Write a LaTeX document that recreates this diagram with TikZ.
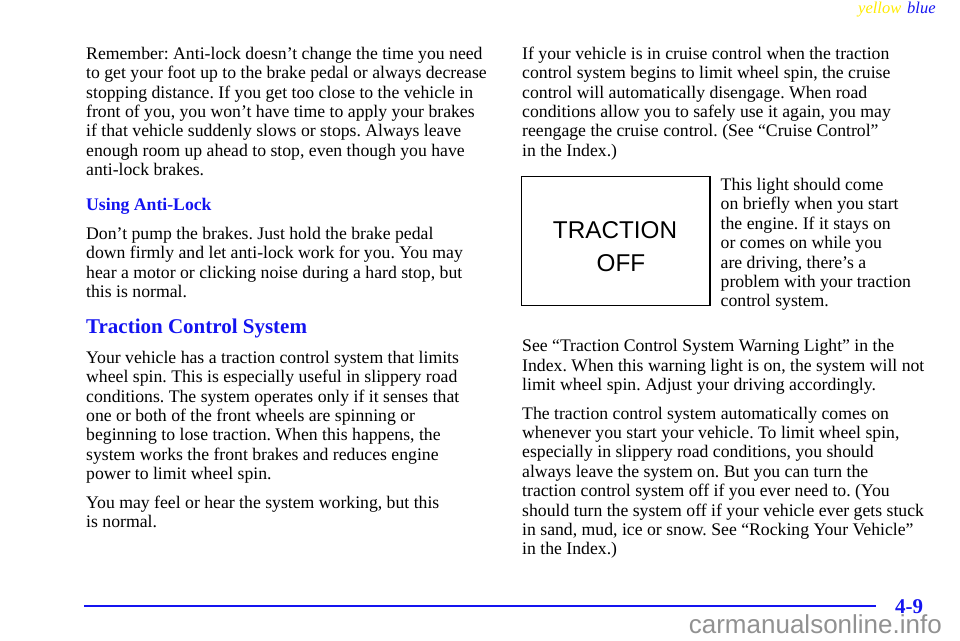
\documentclass[tikz,border=0pt]{standalone}
\usepackage{fontspec}
\setmainfont{Liberation Serif}
\newfontfamily\sansfam{Liberation Sans}
\definecolor{hdblue}{RGB}{20,20,240}
\definecolor{hdyellow}{RGB}{255,235,0}
\definecolor{wmgray}{RGB}{145,145,145}
\frenchspacing
\begin{document}
\begin{tikzpicture}[x=1pt,y=-1pt,
  txt/.style={anchor=base west,inner sep=0pt,font=\fontsize{17.7}{19.4}\selectfont},
  subhead/.style={anchor=base west,inner sep=0pt,text=hdblue,font=\fontsize{17.7}{19.4}\selectfont\bfseries},
  mainhead/.style={anchor=base west,inner sep=0pt,text=hdblue,font=\fontsize{21}{24}\selectfont\bfseries},
  lamp/.style={anchor=base,inner sep=0pt,font=\sansfam\fontsize{24.3}{28}\selectfont}]
\useasboundingbox (0,0) rectangle (960,640);
% header
\node[anchor=base west,inner sep=0pt,text=hdyellow,font=\fontsize{16.5}{18}\selectfont\itshape] (hy) at (858,13.3) {yellow};
\node[anchor=base west,inner sep=0pt,text=hdblue,font=\fontsize{16.5}{18}\selectfont\itshape] (hb) at (907,13.3) {blue};
% left column
\node[txt] (l1) at (86,59.3) {Remember: Anti-lock doesn’t change the time you need};
\node[txt] (l2) at (86,78.7) {to get your foot up to the brake pedal or always decrease};
\node[txt] (l3) at (86,98.1) {stopping distance. If you get too close to the vehicle in};
\node[txt] (l4) at (86,117.5) {front of you, you won’t have time to apply your brakes};
\node[txt] (l5) at (86,136.9) {if that vehicle suddenly slows or stops. Always leave};
\node[txt] (l6) at (86,156.3) {enough room up ahead to stop, even though you have};
\node[txt] (l7) at (86,175.7) {anti-lock brakes.};
\node[subhead] (h1) at (86,210.7) {Using Anti-Lock};
\node[txt] (l8) at (86,239.3) {Don’t pump the brakes. Just hold the brake pedal};
\node[txt] (l9) at (86,258.7) {down firmly and let anti-lock work for you. You may};
\node[txt] (l10) at (86,278.1) {hear a motor or clicking noise during a hard stop, but};
\node[txt] (l11) at (86,297.5) {this is normal.};
\node[mainhead] (h2) at (86,333.3) {Traction Control System};
\node[txt] (l12) at (86,363.3) {Your vehicle has a traction control system that limits};
\node[txt] (l13) at (86,382.7) {wheel spin. This is especially useful in slippery road};
\node[txt] (l14) at (86,402.1) {conditions. The system operates only if it senses that};
\node[txt] (l15) at (86,421.5) {one or both of the front wheels are spinning or};
\node[txt] (l16) at (86,440.9) {beginning to lose traction. When this happens, the};
\node[txt] (l17) at (86,460.3) {system works the front brakes and reduces engine};
\node[txt] (l18) at (86,479.7) {power to limit wheel spin.};
\node[txt] (l19) at (86,508.5) {You may feel or hear the system working, but this};
\node[txt] (l20) at (86,527.9) {is normal.};
% right column
\node[txt] (r1) at (522,59.3) {If your vehicle is in cruise control when the traction};
\node[txt] (r2) at (522,78.7) {control system begins to limit wheel spin, the cruise};
\node[txt] (r3) at (522,98.1) {control will automatically disengage. When road};
\node[txt] (r4) at (522,117.5) {conditions allow you to safely use it again, you may};
\node[txt] (r5) at (522,136.9) {reengage the cruise control. (See “Cruise Control”};
\node[txt] (r6) at (522,156.3) {in the Index.)};
% warning lamp
\draw[line width=1.3pt] (521.7,176.7) rectangle (710,305.7);
\node[lamp] (t1) at (615,238.3) {TRACTION};
\node[lamp] (t2) at (621,271) {OFF};
\node[txt] (s1) at (720.5,190.5) {This light should come};
\node[txt] (s2) at (720.5,209.9) {on briefly when you start};
\node[txt] (s3) at (720.5,229.3) {the engine. If it stays on};
\node[txt] (s4) at (720.5,248.7) {or comes on while you};
\node[txt] (s5) at (720.5,268.1) {are driving, there’s a};
\node[txt] (s6) at (720.5,287.5) {problem with your traction};
\node[txt] (s7) at (720.5,306.9) {control system.};
\node[txt] (r7) at (522,351.7) {See “Traction Control System Warning Light” in the};
\node[txt] (r8) at (522,371.1) {Index. When this warning light is on, the system will not};
\node[txt] (r9) at (522,390.5) {limit wheel spin. Adjust your driving accordingly.};
\node[txt] (r10) at (522,419) {The traction control system automatically comes on};
\node[txt] (r11) at (522,438.4) {whenever you start your vehicle. To limit wheel spin,};
\node[txt] (r12) at (522,457.8) {especially in slippery road conditions, you should};
\node[txt] (r13) at (522,477.2) {always leave the system on. But you can turn the};
\node[txt] (r14) at (522,496.6) {traction control system off if you ever need to. (You};
\node[txt] (r15) at (522,516) {should turn the system off if your vehicle ever gets stuck};
\node[txt] (r16) at (522,535.4) {in sand, mud, ice or snow. See “Rocking Your Vehicle”};
\node[txt] (r17) at (522,554.8) {in the Index.)};
% footer
\coordinate (fl) at (84,606);
\coordinate (fr) at (876,606);
\draw[hdblue,line width=2.5pt] (fl) -- (fr);
\node[anchor=base west,inner sep=0pt,text=hdblue,font=\fontsize{21}{24}\selectfont\bfseries] (pg) at (895,613.3) {4-9};
\node[anchor=base east,inner sep=0pt,text=wmgray,font=\sansfam\fontsize{26}{28}\selectfont] (wm) at (942,633.5) {carmanualsonline.info};
\end{tikzpicture}
\end{document}
